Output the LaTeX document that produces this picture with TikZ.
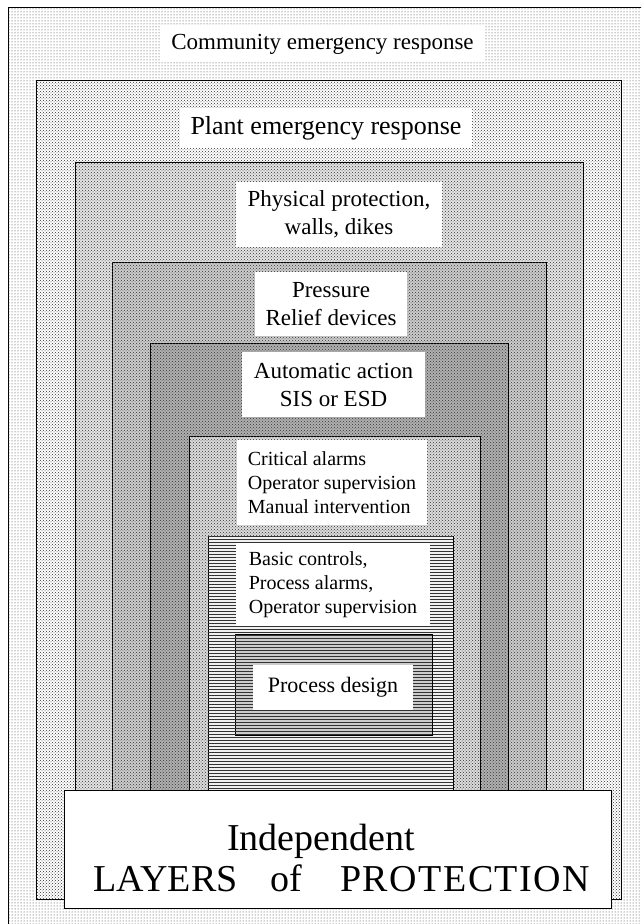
\documentclass[tikz,border=0pt]{standalone}
\usepackage{fontspec}
\setmainfont{Liberation Serif}
\usetikzlibrary{patterns,positioning}
\colorlet{dotgray}{black!80}
\tikzstyle{ring}=[draw=black,line width=0.9pt,fill=#1]
\tikzstyle{fine}=[postaction={pattern=crosshatch dots,pattern color=dotgray}]
\tikzstyle{stripe}=[postaction={pattern=horizontal lines,pattern color=dotgray}]
\tikzstyle{tag}=[fill=white,inner sep=0pt,align=center]
\newcommand{\fsz}[2]{\fontsize{#1}{#2}\selectfont}

\begin{document}
\begin{tikzpicture}[x=1pt,y=-1pt]
        \clip (0,0) rectangle (641,924);
        \fill[white] (0,0) rectangle (641,924);

        % the rings, outside in
        \draw[ring=white,postaction={pattern=dots,pattern color=dotgray}] (8,7) rectangle (660,940);
        \draw[ring=white,fine] (36,80) rectangle (621,899);
        \draw[ring=gray!20,fine] (75,162) rectangle (583,850);
        \draw[ring=gray!40,fine] (112,262) rectangle (546,850);
        \draw[ring=gray!62,fine] (150,343) rectangle (508,850);
        \draw[ring=gray!28,fine] (189,436) rectangle (480,850);
        \draw[ring=gray!12,stripe] (208,536) rectangle (453,850);
        \draw[ring=gray!40,stripe] (235,634) rectangle (432,735);

        \node[tag,font=\fsz{23}{28},minimum width=325,minimum height=36] at (322.5,44) (community) {Community emergency response};
        \node[tag,font=\fsz{26}{30},minimum width=292,minimum height=40] at (326,128) (plant) {Plant emergency response};
        \node[tag,font=\fsz{23}{28},minimum width=206,minimum height=65] at (339,214.5) (physical) {Physical protection,\\walls, dikes};
        \node[tag,font=\fsz{23}{28},minimum width=152,minimum height=64] at (331,304) (relief) {Pressure\\Relief devices};
        \node[tag,font=\fsz{23}{28},minimum width=183,minimum height=65] at (333.5,384.5) (sis) {Automatic action\\SIS or ESD};
        \node[tag,align=left,font=\fsz{20}{24},minimum width=190,minimum height=85] at (332,482.5) (alarms) {Critical alarms\\Operator supervision\\Manual intervention};
        \node[tag,align=left,font=\fsz{20}{24},minimum width=194,minimum height=83] at (333,584.5) (bpcs) {Basic controls,\\Process alarms,\\Operator supervision};
        \node[tag,font=\fsz{22}{26},minimum width=160,minimum height=45] at (333,687.5) (design) {Process design};

        \node[draw,fill=white,line width=1pt,minimum width=547,minimum height=118] at (337.5,849) (ipl) {};
        \node[anchor=base,inner sep=0pt,font=\fsz{38}{38}] at (321,850) (indep) {Independent};
        \node[anchor=base west,inner sep=0pt,font=\fsz{38}{38}] at (93,891) (layers) {LAYERS\hspace{33pt}of\hspace{38pt}{\addfontfeature{LetterSpace=4}PROTECTION}};
      \end{tikzpicture}
\end{document}
